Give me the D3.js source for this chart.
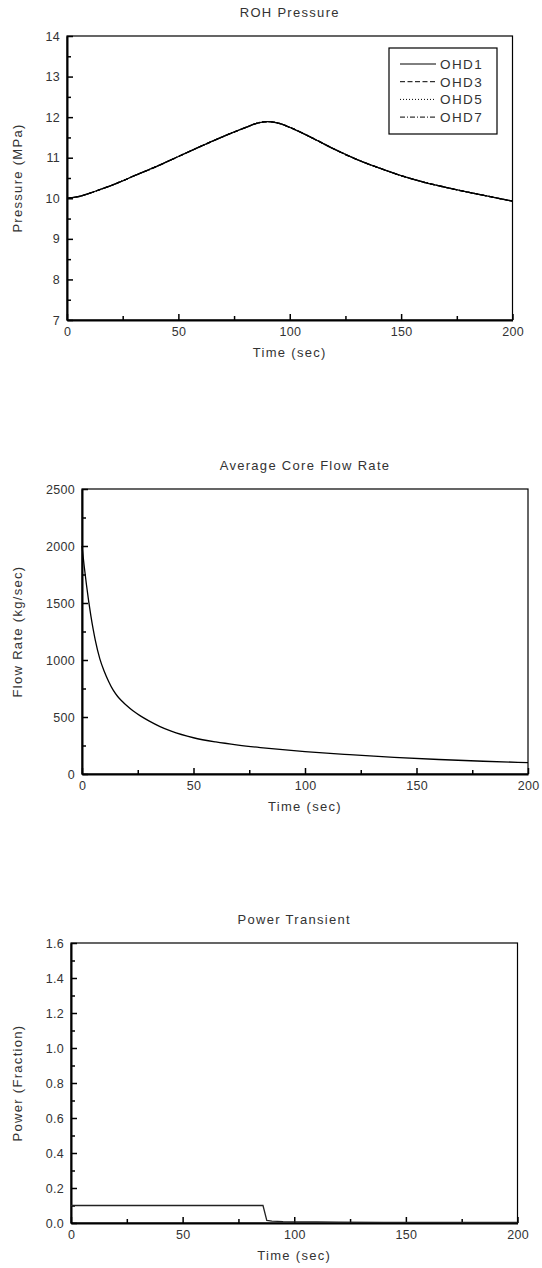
<!DOCTYPE html>
<html>
<head>
<meta charset="utf-8">
<script src="https://cdn.jsdelivr.net/npm/d3@7"></script>
<style>
body { margin: 0; background: #fff; }
svg { display: block; font-family: Arial, "Liberation Sans", sans-serif; }
text { fill: #333; }
.num { font-size: 12.5px; letter-spacing: 0.3px; }
.lbl { font-size: 13px; letter-spacing: 1.3px; }
</style>
</head>
<body>
<svg id="chart" width="542" height="1268"></svg>
<script>
// ROH pressure (all four cases overlap)
var PressureTime = [0, 5, 10, 15, 20, 25, 30, 40, 50, 60, 70, 80, 86, 90, 95, 100, 110, 120, 130, 140, 150, 160, 170, 180, 190, 200];
var PressureOHD = [10.00, 10.04, 10.12, 10.22, 10.32, 10.43, 10.55, 10.78, 11.03, 11.28, 11.52, 11.74, 11.86, 11.89, 11.85, 11.75, 11.49, 11.21, 10.96, 10.75, 10.56, 10.40, 10.27, 10.15, 10.04, 9.93];
var SeriesNames = ["OHD1", "OHD3", "OHD5", "OHD7"];
// Average core flow rate
var FlowTime = [0, 1, 2, 3, 4, 5, 6, 8, 10, 12, 14, 16, 18, 20, 23, 26, 30, 35, 40, 50, 60, 70, 80, 90, 100, 120, 140, 160, 180, 200];
var FlowRate = [2000, 1820, 1660, 1515, 1385, 1270, 1170, 1010, 900, 810, 735, 680, 638, 600, 552, 512, 466, 416, 376, 318, 281, 254, 232, 213, 197, 170, 146, 127, 112, 100];
// Power transient
var PowerTime = [0, 86, 87.7, 90, 95, 100, 110, 120, 140, 160, 180, 200];
var PowerFraction = [0.1, 0.1, 0.015, 0.011, 0.008, 0.007, 0.006, 0.005, 0.004, 0.004, 0.003, 0.003];
// Ticks
var TimeTicks = [0, 50, 100, 150, 200];
var TimeMinor = [25, 75, 125, 175];
var PressureTicks = [7, 8, 9, 10, 11, 12, 13, 14];
var FlowTicks = [0, 500, 1000, 1500, 2000, 2500];
var PowerTicks = [0, 0.2, 0.4, 0.6, 0.8, 1.0, 1.2, 1.4, 1.6];

var Dashes = { OHD1: null, OHD3: "5,2.5", OHD5: "1,2", OHD7: "5,2,1,2" };
var SVG = d3.select("#chart");

/** DrawPanel: one framed plot with inward ticks. */
function DrawPanel(C) {
    var G = SVG.append("g");
    var X = d3.scaleLinear().domain([0, 200]).range([C.Left, C.Right]);
    var Y = d3.scaleLinear().domain(C.YDomain).range([C.Bottom, C.Top]);
    // Frame
    G.append("rect")
        .attr("x", C.Left).attr("y", C.Top)
        .attr("width", C.Right - C.Left).attr("height", C.Bottom - C.Top)
        .attr("fill", "none").attr("stroke", "#000").attr("stroke-width", 1.2);
    // X axis
    G.append("g").attr("transform", `translate(0,${C.Bottom})`)
        .call(d3.axisBottom(X).tickValues(TimeTicks).tickSize(-6).tickSizeOuter(0).tickPadding(7).tickFormat(d3.format("d")));
    G.append("g").attr("transform", `translate(0,${C.Bottom})`)
        .call(d3.axisBottom(X).tickValues(TimeMinor).tickSize(-4).tickSizeOuter(0).tickFormat(""))
        .select(".domain").remove();
    // Y axis
    G.append("g").attr("transform", `translate(${C.Left},0)`)
        .call(d3.axisLeft(Y).tickValues(C.YTicks).tickSize(-6).tickSizeOuter(0).tickPadding(7).tickFormat(C.Format));
    var Step = C.YTicks[1] - C.YTicks[0];
    var Minor = C.YTicks.slice(1).map(V => V - Step / 2);
    G.append("g").attr("transform", `translate(${C.Left},0)`)
        .call(d3.axisLeft(Y).tickValues(Minor).tickSize(-4).tickSizeOuter(0).tickFormat(""))
        .select(".domain").remove();
    G.selectAll(".domain").attr("stroke-width", 2);
    G.selectAll(".tick line").attr("stroke-width", 1.5);
    G.selectAll(".tick text").attr("class", "num").attr("font-family", null).attr("font-size", null).attr("fill", null);
    // Titles
    G.append("text").attr("class", "lbl").attr("x", (C.Left + C.Right) / 2).attr("y", C.Top - 19)
        .attr("text-anchor", "middle").text(C.Title);
    G.append("text").attr("class", "lbl").attr("x", (C.Left + C.Right) / 2).attr("y", C.Bottom + 37)
        .attr("text-anchor", "middle").text("Time (sec)");
    G.append("text").attr("class", "lbl")
        .attr("transform", `translate(22,${(C.Top + C.Bottom) / 2}) rotate(-90)`)
        .attr("text-anchor", "middle").text(C.YLabel);
    return { G, X, Y };
}

function DrawLine(Panel, Times, Values, Dash, Width) {
    var Line = d3.line().x((D, I) => Panel.X(Times[I])).y(D => Panel.Y(D)).curve(d3.curveMonotoneX);
    Panel.G.append("path").datum(Values)
        .attr("d", Line)
        .attr("fill", "none").attr("stroke", "#000").attr("stroke-width", Width)
        .attr("stroke-dasharray", Dash);
}

// Panel 1: ROH Pressure
var P1 = DrawPanel({ Left: 67, Right: 512.5, Top: 36, Bottom: 320, YDomain: [7, 14], YTicks: PressureTicks,
    Format: d3.format("d"), Title: "ROH Pressure", YLabel: "Pressure (MPa)" });
SeriesNames.slice().reverse().forEach(Name => DrawLine(P1, PressureTime, PressureOHD, Dashes[Name], 1.3));
// Legend
var Legend = P1.G.append("g").attr("transform", "translate(389,48)");
Legend.append("rect").attr("width", 108).attr("height", 86).attr("fill", "#fff").attr("stroke", "#000").attr("stroke-width", 1.2);
SeriesNames.forEach((Name, I) => {
    var Row = Legend.append("g").attr("transform", `translate(0,${16 + I * 17.7})`);
    Row.append("line").attr("x1", 11).attr("x2", 47).attr("stroke", "#000").attr("stroke-width", 1)
        .attr("stroke-dasharray", Dashes[Name]);
    Row.append("text").attr("x", 51).attr("dy", "0.36em").style("font-size", "13.5px").style("letter-spacing", "1.4px").text(Name);
});

// Panel 2: Average Core Flow Rate
var P2 = DrawPanel({ Left: 82, Right: 528, Top: 489, Bottom: 774, YDomain: [0, 2500], YTicks: FlowTicks,
    Format: d3.format("d"), Title: "Average Core Flow Rate", YLabel: "Flow Rate (kg/sec)" });
DrawLine(P2, FlowTime, FlowRate, null, 1.3);

// Panel 3: Power Transient
var P3 = DrawPanel({ Left: 71, Right: 517.5, Top: 943, Bottom: 1223, YDomain: [0, 1.6], YTicks: PowerTicks,
    Format: d3.format(".1f"), Title: "Power Transient", YLabel: "Power (Fraction)" });
var PowerLine = d3.line().x((D, I) => P3.X(PowerTime[I])).y(D => P3.Y(D));
P3.G.append("path").datum(PowerFraction).attr("d", PowerLine)
    .attr("fill", "none").attr("stroke", "#222").attr("stroke-width", 1.3);
</script>
</body>
</html>
